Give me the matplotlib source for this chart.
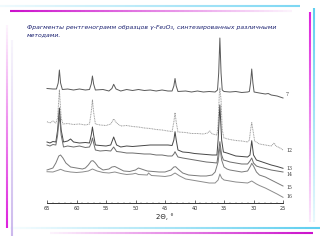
import numpy as np
import matplotlib
matplotlib.use("Agg")
import matplotlib.pyplot as plt
from matplotlib.collections import LineCollection

# ---------------- data (2θ in degrees, intensity in arbitrary units) ----------------
tt7 = [65, 64, 63.4, 63.1, 62.9, 62.7, 62.4, 61.5, 60.5, 59.5, 58.5, 57.8, 57.5, 57.3, 57.1, 56.8,
       55.5, 54.5, 54.0, 53.7, 53.3, 52.5, 51.5, 50.5, 49.5, 48.5, 47.5, 46.5, 45.5, 44.5, 43.8,
       43.5, 43.3, 43.1, 42.8, 41.5, 40.5, 39.5, 38.5, 37.5, 36.5, 36.1, 35.9, 35.7, 35.5, 35.3,
       35.0, 34, 33, 32, 31, 30.7, 30.5, 30.3, 30.1, 29.9, 29, 28, 27.5, 27, 26, 25.5, 25]
in7 = [114.5, 114, 114, 120, 133, 120, 113.5, 114, 113, 114, 113, 113.5, 119, 127, 119, 113,
       113.5, 112, 114.5, 118.7, 114, 112, 113.5, 112.5, 113.5, 112.5, 113, 112, 113, 112, 112,
       117, 124.5, 117, 111.5, 112, 111, 112, 111, 111.5, 111, 113, 130, 165, 130, 113,
       111.5, 111, 111.5, 110.5, 111, 111.5, 120, 134, 120, 111, 110, 109, 109.5, 108, 107, 106, 105]

tt12 = [65, 64.5, 64, 63.5, 63.2, 62.9, 62.6, 62.3, 61.5, 60.5, 59.5, 58.5, 57.8, 57.5, 57.3, 57.1,
        56.8, 56, 55, 54.2, 53.7, 53.2, 52.5, 51.5, 50.5, 49.5, 48.5, 47.5, 46.5, 45.5, 44.5, 43.8,
        43.5, 43.3, 43.1, 42.8, 41.5, 40.5, 39.5, 38.5, 37.8, 37.4, 37, 36.2, 36, 35.8, 35.7, 35.5,
        35.3, 35, 34, 33, 32, 31, 30.7, 30.5, 30.3, 30.1, 29.8, 29, 28, 27, 26.5, 26.2, 25.5, 25]
in12 = [81.3, 80, 82, 80, 85, 113, 85, 79, 79.5, 78.5, 79, 78, 79, 91, 103, 91,
        79, 78, 77.5, 79, 84, 80, 77, 77.5, 76.5, 76, 75, 74.5, 73.5, 73, 72, 71.5,
        81, 90.3, 81, 71, 70.5, 69.5, 69.5, 69, 70, 72, 69, 68, 78, 108, 115, 103,
        73, 65, 63.5, 62.5, 62, 61, 63, 73, 80.3, 73, 62, 59, 58, 57, 60, 57, 55, 53]

tt13 = [65, 64.5, 64, 63.5, 63.2, 62.9, 62.6, 62.2, 61.5, 61, 60.5, 59.5, 58.5, 57.8, 57.5, 57.3,
        57.1, 56.8, 56, 55, 54.2, 53.7, 53.2, 52.5, 51.5, 50.5, 49.5, 48.5, 47.5, 46.5, 45.5, 44.5,
        43.8, 43.5, 43.3, 43.1, 42.8, 42, 41, 40, 39, 38, 37, 36.2, 36, 35.7, 35.4, 35.1, 34.5, 34,
        33, 32, 31, 30.6, 30.3, 30.0, 29.5, 29, 28, 27, 26, 25]
in13 = [61, 60, 61.5, 61, 73, 95, 73, 61, 62, 64, 61, 60, 60.5, 60, 68, 76,
        68, 58, 57.5, 57, 58, 66, 58, 56, 57, 56.5, 57, 57.5, 58, 58, 58, 58,
        57.5, 63, 71.3, 63, 53, 51, 50.5, 49.5, 49, 48.5, 48, 48, 63, 98, 63, 51, 50, 49,
        47, 46.5, 46, 48, 62.3, 48, 43, 42, 40, 38, 36.5, 34.7]

tt14 = [65, 64.5, 64, 63.5, 63.2, 62.9, 62.6, 62.2, 61.5, 60.5, 59.5, 58.5, 57.8, 57.5, 57.3, 57.1,
        56.8, 56, 55, 54.2, 53.7, 53.2, 52.5, 51.5, 50.5, 49.5, 48.5, 47.5, 46.5, 45.5, 44.5, 43.8,
        43.5, 43.3, 43.1, 42.8, 42, 41, 40, 39, 38, 37, 36.2, 36, 35.7, 35.4, 35.1, 34.5, 34, 33,
        32, 31, 30.6, 30.3, 30, 29.5, 29, 28, 27, 26, 25]
in14 = [58, 57, 58.5, 58, 68, 88, 68, 56, 57, 56, 57, 55.5, 56, 60, 65, 60,
        53, 52, 52.5, 52, 56, 51.5, 51, 50, 50, 49.5, 49, 49, 48, 48, 47, 47,
        49, 51.3, 49, 46, 45, 44, 43, 42, 41, 40.5, 40, 48, 61.3, 48, 43, 42, 41, 40,
        39, 39, 42, 45, 40, 37, 36, 34.5, 33, 32, 31]

tt15 = [65, 64, 63.5, 63, 62.7, 62.3, 61.8, 61, 60, 59, 58.5, 58, 57.5, 57.2, 56.8, 56.3, 55.5,
        54.5, 54, 53.5, 53, 52, 51, 50, 49.5, 49, 48, 47, 46, 45, 44, 43.5, 43.2, 42.8, 42, 41,
        40, 39, 38, 37, 36.5, 36, 35.7, 35.4, 35, 34.5, 34, 33, 32, 31, 30.5, 30.3, 30, 29.5, 29,
        28, 27, 26, 25]
in15 = [33, 35, 40, 47, 48, 45, 40, 36, 35, 34, 35, 38, 42, 42.3, 40, 36, 33,
        34, 36, 36.5, 35, 32, 31.5, 33, 35, 34, 32, 31.5, 31, 31, 33, 36, 36.3, 34, 30, 28,
        27.5, 27, 27, 28, 31, 41, 56.3, 43, 36, 34, 33, 32, 31, 32, 37, 39.7, 37, 31, 28,
        26, 23, 20, 17]

tt16 = [65, 64, 63, 62.7, 62, 61, 60, 59, 58, 57.3, 56.5, 55.5, 54.5, 53.5, 52.5, 51.5, 50.5, 50,
        49.5, 48, 47.8, 47.3, 46, 45, 44, 43.3, 42.5, 41.5, 40.5, 39.5, 38.5, 37.5, 36.5, 36, 35.7,
        35.4, 35, 34, 33, 32, 31, 30.3, 29.5, 29, 28, 27, 26, 25]
in16 = [31.3, 31, 33, 33.7, 32, 31, 30.5, 31, 32, 34, 32, 30.5, 30, 31, 29.5, 28.5, 29, 29.7,
        28.5, 28, 30, 27.5, 27, 26.5, 27.5, 30, 27, 24, 23, 22, 21, 20, 20, 23, 29,
        25, 23, 22, 21, 20.5, 20, 22, 19, 17.5, 15, 12, 9, 5.7]

curve_names = ["7", "12", "13", "14", "15", "16"]
label_y = [108, 53, 34, 28, 15.5, 6]
x_ticks = [65, 60, 55, 50, 45, 40, 35, 30, 25]

title_line1 = "Фрагменты рентгенограмм образцов γ-Fe₂O₃, синтезированных различными"
title_line2 = "методами."
x_label = "2Θ, °"

# ---------------- figure ----------------
W, H = 321, 240
fig = plt.figure(figsize=(W / 100, H / 100), dpi=100)
fig.patch.set_facecolor("white")

# decorative frame (pixel coordinates)
bg = fig.add_axes([0, 0, 1, 1])
bg.set_xlim(0, W)
bg.set_ylim(H, 0)
bg.axis("off")


def grad_line(ax, x0, y0, x1, y1, color, a0, a1, lw, n=60):
    xs = np.linspace(x0, x1, n + 1)
    ys = np.linspace(y0, y1, n + 1)
    segs = [[(xs[i], ys[i]), (xs[i + 1], ys[i + 1])] for i in range(n)]
    rgba = matplotlib.colors.to_rgba(color)
    cols = [(rgba[0], rgba[1], rgba[2], a0 + (a1 - a0) * i / (n - 1)) for i in range(n)]
    ax.add_collection(LineCollection(segs, colors=cols, linewidths=lw, capstyle="butt"))


grad_line(bg, 0, 5.5, 300, 5.5, "#6fd3f2", 0.1, 0.9, 1.5)
grad_line(bg, 10, 10.5, 292, 10.5, "#cc11cc", 1.0, 0.05, 1.5)
grad_line(bg, 310, 12, 310, 222, "#dd22dd", 1.0, 0.1, 1.5)
grad_line(bg, 314, 8, 314, 222, "#5fcff0", 1.0, 0.15, 1.5)
grad_line(bg, 10, 227.5, 320, 227.5, "#5fcff0", 0.05, 1.0, 1.5)
grad_line(bg, 50, 232.5, 313, 232.5, "#cc11cc", 0.05, 1.0, 1.5)
grad_line(bg, 7, 25, 7, 228, "#dd22dd", 0.05, 1.0, 1.5)
grad_line(bg, 12, 40, 12, 236, "#b79be6", 0.1, 0.7, 1.5)

# title
fig.text(27 / W, 1 - 27 / H, title_line1, fontsize=4.45, style="italic", color="#1a2070",
         va="center", ha="left")
fig.text(27 / W, 1 - 34.5 / H, title_line2, fontsize=4.45, style="italic", color="#1a2070",
         va="center", ha="left")

# main axes
ax = fig.add_axes([47 / W, 1 - 203 / H, (283 - 47) / W, 183 / H])
ax.set_facecolor("none")
ax.set_xlim(65, 25)
ax.set_ylim(0, 183)
for s in ["top", "right", "left"]:
    ax.spines[s].set_visible(False)
ax.spines["bottom"].set_linewidth(0.7)
ax.spines["bottom"].set_color("#333333")
ax.set_yticks([])
ax.set_xticks(x_ticks)
ax.set_xticklabels([str(t) for t in x_ticks])
ax.set_xticks(np.arange(25, 66, 1), minor=True)
ax.tick_params(axis="x", which="major", direction="in", length=2.5, width=0.5, pad=2.5,
               labelsize=3.6, colors="#333333")
ax.tick_params(axis="x", which="minor", direction="in", length=1.0, width=0.3, colors="#555555")
ax.set_xlabel(x_label, fontsize=5, labelpad=1.5, color="#222222")

series = [(tt7, in7, "#5a5a5a", "-"), (tt12, in12, "#9a9a9a", (0, (1, 0.7))),
          (tt13, in13, "#474747", "-"), (tt14, in14, "#6c6c6c", "-"),
          (tt15, in15, "#7a7a7a", "-"), (tt16, in16, "#8c8c8c", "-")]
for (tt, inten, col, ls), name, ly in zip(series, curve_names, label_y):
    ax.plot(tt, inten, color=col, lw=0.7, ls=ls, clip_on=False)
    ax.text(24.5, ly, name, fontsize=3.3, family="DejaVu Serif", color="#333333",
            ha="left", va="center", clip_on=False)

fig.savefig("out.png", dpi=100, facecolor="white")
